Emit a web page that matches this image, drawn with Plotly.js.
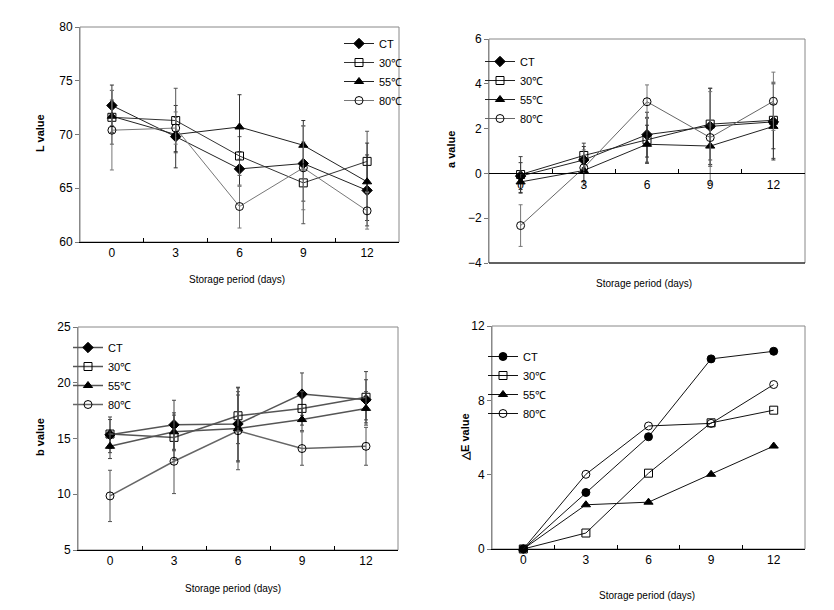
<!DOCTYPE html>
<html>
<head>
<meta charset="utf-8">
<script src="https://cdn.plot.ly/plotly-3.0.1.min.js"></script>
<style>html,body{margin:0;padding:0;background:#fff}#chart{width:834px;height:610px}</style>
</head>
<body>
<div id="chart"></div>
<script>
// ---- data ----
var days = ['0', '3', '6', '9', '12'];
var seriesNames = ['CT', '30℃', '55℃', '80℃'];

// L value
var L_CT = [72.7, 69.8, 66.8, 67.3, 64.8];
var L_CT_sd = [1.9, 2.9, 1.6, 3.5, 3.3];
var L_30 = [71.6, 71.3, 68.0, 65.5, 67.5];
var L_30_sd = [2.5, 3.0, 1.8, 3.8, 2.8];
var L_55 = [71.7, 70.0, 70.7, 69.0, 65.6];
var L_55_sd = [1.5, 1.6, 3.0, 2.3, 3.6];
var L_80 = [70.4, 70.6, 63.3, 66.9, 62.9];
var L_80_sd = [3.7, 1.5, 2.0, 3.9, 1.7];

// a value
var a_CT = [-0.12, 0.6, 1.73, 2.1, 2.3];
var a_CT_sd = [0.6, 0.6, 1.0, 1.7, 1.7];
var a_30 = [-0.05, 0.8, 1.5, 2.2, 2.37];
var a_30_sd = [0.8, 0.55, 1.0, 1.6, 1.7];
var a_55 = [-0.38, 0.13, 1.3, 1.22, 2.1];
var a_55_sd = [0.5, 0.5, 0.85, 0.9, 1.0];
var a_80 = [-2.33, 0.25, 3.2, 1.6, 3.22];
var a_80_sd = [0.93, 0.8, 0.75, 2.05, 1.3];

// b value
var b_CT = [15.33, 16.23, 16.3, 18.98, 18.47];
var b_CT_sd = [1.6, 2.2, 3.3, 1.9, 1.8];
var b_30 = [15.4, 15.1, 17.04, 17.7, 18.7];
var b_30_sd = [1.3, 2.0, 2.5, 1.5, 2.3];
var b_55 = [14.3, 15.6, 15.9, 16.7, 17.7];
var b_55_sd = [1.1, 1.7, 3.0, 1.0, 1.5];
var b_80 = [9.85, 12.96, 15.7, 14.1, 14.3];
var b_80_sd = [2.3, 2.9, 3.5, 1.5, 1.7];

// delta E value
var E_CT = [0, 3.04, 6.04, 10.23, 10.64];
var E_30 = [0, 0.86, 4.08, 6.79, 7.47];
var E_55 = [0, 2.38, 2.52, 4.02, 5.54];
var E_80 = [0, 4.02, 6.62, 6.76, 8.85];

// ---- styling ----
var SANS = '"Liberation Sans", Arial, sans-serif';
var W = 834, H = 610;
function fx(px) { return px / W; }
function fy(px) { return 1 - px / H; }

var symbols = ['diamond', 'square-open', 'triangle-up', 'circle-open'];
var symbols4 = ['circle', 'square-open', 'triangle-up', 'circle-open'];

function mk(panel, name, idx, y, sd, lineColor, lineWidth, errColor, sym) {
  var t = {
    type: 'scatter', mode: 'lines+markers', name: name,
    x: days, y: y,
    xaxis: panel === 1 ? 'x' : 'x' + panel,
    yaxis: panel === 1 ? 'y' : 'y' + panel,
    legend: panel === 1 ? 'legend' : 'legend' + panel,
    line: {color: lineColor, width: lineWidth},
    marker: {symbol: sym[idx], size: 8, color: '#000', line: {color: '#000', width: 1}},
    cliponaxis: false
  };
  if (sd) {
    t.error_y = {type: 'data', array: sd, visible: true, color: errColor, thickness: 1, width: 2};
  }
  return t;
}

var traces = [
  mk(1, seriesNames[0], 0, L_CT, L_CT_sd, '#222', 1, '#333', symbols),
  mk(1, seriesNames[1], 1, L_30, L_30_sd, '#333', 1, '#555', symbols),
  mk(1, seriesNames[2], 2, L_55, L_55_sd, '#222', 1, '#333', symbols),
  mk(1, seriesNames[3], 3, L_80, L_80_sd, '#777', 1, '#777', symbols),

  mk(2, seriesNames[0], 0, a_CT, a_CT_sd, '#222', 1, '#333', symbols),
  mk(2, seriesNames[1], 1, a_30, a_30_sd, '#222', 1, '#444', symbols),
  mk(2, seriesNames[2], 2, a_55, a_55_sd, '#222', 1, '#333', symbols),
  mk(2, seriesNames[3], 3, a_80, a_80_sd, '#666', 1, '#777', symbols),

  mk(3, seriesNames[0], 0, b_CT, b_CT_sd, '#555', 1.5, '#444', symbols),
  mk(3, seriesNames[1], 1, b_30, b_30_sd, '#555', 1.5, '#444', symbols),
  mk(3, seriesNames[2], 2, b_55, b_55_sd, '#555', 1.5, '#444', symbols),
  mk(3, seriesNames[3], 3, b_80, b_80_sd, '#666', 1.5, '#555', symbols),

  mk(4, seriesNames[0], 0, E_CT, null, '#111', 1, '#000', symbols4),
  mk(4, seriesNames[1], 1, E_30, null, '#111', 1, '#000', symbols4),
  mk(4, seriesNames[2], 2, E_55, null, '#111', 1, '#000', symbols4),
  mk(4, seriesNames[3], 3, E_80, null, '#111', 1, '#000', symbols4)
];

// panel geometry in pixels
var P = {
  1: {x0: 80, x1: 399, y0: 27, y1: 242},
  2: {x0: 489, x1: 805, y0: 39, y1: 263},
  3: {x0: 78, x1: 398, y0: 327, y1: 550},
  4: {x0: 492, x1: 805, y0: 326, y1: 549}
};
var yRanges = {1: [60, 80], 2: [-4, 6], 3: [5, 25], 4: [0, 12]};
var yDtick = {1: 5, 2: 2, 3: 5, 4: 4};

var tickFont = {family: SANS, size: 12, color: '#000'};
var layout = {
  width: W, height: H,
  margin: {l: 0, r: 0, t: 0, b: 0},
  paper_bgcolor: '#fff', plot_bgcolor: 'rgba(0,0,0,0)',
  showlegend: true,
  shapes: [], annotations: []
};

[1, 2, 3, 4].forEach(function (p) {
  var g = P[p];
  var xs = p === 1 ? 'xaxis' : 'xaxis' + p;
  var ys = p === 1 ? 'yaxis' : 'yaxis' + p;
  var xr = p === 1 ? 'x' : 'x' + p;
  var yr = p === 1 ? 'y' : 'y' + p;
  var ydom = [fy(g.y1), fy(g.y0)];
  layout[xs] = {
    type: 'category', domain: [fx(g.x0), fx(g.x1)], anchor: yr,
    categoryorder: 'array', categoryarray: days,
    range: [-0.5, 4.5], tickson: 'boundaries',
    ticks: 'inside', ticklen: 4, tickcolor: '#000',
    showline: true, linecolor: '#000', linewidth: 1,
    showgrid: false, zeroline: false,
    tickfont: tickFont, fixedrange: true
  };
  layout[ys] = {
    domain: ydom, anchor: xr, range: yRanges[p], dtick: yDtick[p], tick0: 0,
    ticks: 'outside', ticklen: 4, tickcolor: '#777',
    showline: true, linecolor: '#888', linewidth: 1,
    showgrid: false, zeroline: false,
    tickfont: tickFont, fixedrange: true
  };
  // frame
  layout.shapes.push({type: 'rect', xref: xr + ' domain', yref: yr + ' domain',
    x0: 0, x1: 1, y0: 0, y1: 1, line: {color: '#888', width: 1}, layer: 'below'});
});

// panel 2: x axis crossing at zero
var d2 = layout.yaxis2.domain;
layout.xaxis2.anchor = 'free';
layout.xaxis2.position = d2[0] + (0 - yRanges[2][0]) / (yRanges[2][1] - yRanges[2][0]) * (d2[1] - d2[0]);
layout.shapes.push({type: 'line', xref: 'x2 domain', yref: 'y2 domain', x0: 0, x1: 1, y0: 0, y1: 0,
  line: {color: '#000', width: 1}});

// axis titles as annotations
var xtFont = {family: SANS, size: 10, color: '#000'};
var ytFont = {family: SANS, size: 11, color: '#000', weight: 'bold'};
function ann(text, x, y, font, angle) {
  layout.annotations.push({text: text, xref: 'paper', yref: 'paper', x: fx(x), y: fy(y),
    xanchor: 'center', yanchor: 'middle', showarrow: false, font: font, textangle: angle || 0});
}
ann('Storage period (days)', 237, 279, xtFont);
ann('Storage period (days)', 644, 283, xtFont);
ann('Storage period (days)', 233, 588, xtFont);
ann('Storage period (days)', 647, 595, xtFont);
ann('L value', 40, 133, ytFont, -90);
ann('a value', 451, 150, ytFont, -90);
ann('b value', 40, 437, ytFont, -90);
ann('△E value', 465, 437, ytFont, -90);

// legends
var legFont = {family: SANS, size: 11, color: '#000'};
function leg(x, y) {
  return {x: fx(x), y: fy(y), xanchor: 'left', yanchor: 'top', bgcolor: 'rgba(0,0,0,0)',
    borderwidth: 0, font: legFont, itemwidth: 30, tracegroupgap: 0, itemclick: false, itemdoubleclick: false};
}
layout.legend = leg(339, 29);
layout.legend2 = leg(480, 47);
layout.legend3 = leg(68, 333);
layout.legend4 = leg(483, 342);

Plotly.newPlot('chart', traces, layout, {staticPlot: true, displayModeBar: false});
</script>
</body>
</html>
